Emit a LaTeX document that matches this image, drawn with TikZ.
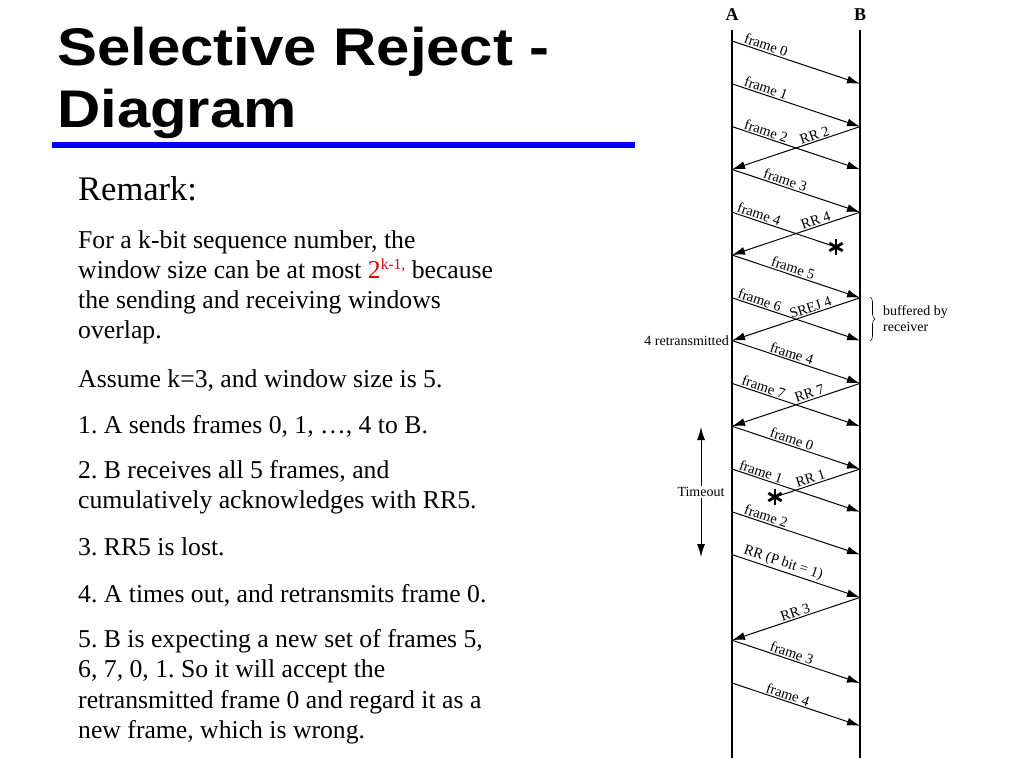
\documentclass[tikz,border=0pt]{standalone}
\usepackage{fontspec}
\setmainfont{Liberation Serif}
\newfontfamily\titlefont{Liberation Sans}
\usetikzlibrary{arrows.meta,decorations.pathreplacing}
\definecolor{slideblue}{RGB}{0,0,255}
\definecolor{hired}{RGB}{225,0,0}
\frenchspacing
\begin{document}
\begin{tikzpicture}[x=1pt,y=1pt,
  titletext/.style={anchor=base west, inner sep=0, font=\titlefont\bfseries\fontsize{53}{53}\selectfont},
  bodytext/.style={anchor=base west, inner sep=0, font=\fontsize{25.7}{30}\selectfont},
  lifeline/.style={line width=1.2pt},
  headtip/.tip={Latex[length=13pt,width=8pt]},
  msg/.style={line width=1pt, -headtip},
  lostmsg/.style={line width=1pt},
  lbl/.style={font=\fontsize{14.5}{14.5}\selectfont, sloped, above, inner sep=1.2pt},
  note/.style={font=\fontsize{14}{16}\selectfont, inner sep=0},
  lossmark/.style={circle, minimum size=15pt, inner sep=0},
  ]
\useasboundingbox (0,0) rectangle (1024,-768);

% ---------- left side text ----------
\node[titletext] (t1) at (57,-66) {\scalebox{1.13}[1]{Selective Reject -}};
\node[titletext] (t2) at (57,-127) {\scalebox{1.13}[1]{Diagram}};
\draw[slideblue, line width=6pt] (52,-145) -- (635,-145);

\node[anchor=base west, inner sep=0, font=\fontsize{34.5}{34.5}\selectfont] (rem) at (78,-200) {Remark:};
\node[bodytext] (p1a) at (78,-248) {For a k-bit sequence number, the};
\node[bodytext] (p1b) at (78,-278) {window size can be at most {\color{hired}2\raisebox{9pt}{\fontsize{15.5}{15.5}\selectfont k-1,}} because};
\node[bodytext] (p1c) at (78,-308) {the sending and receiving windows};
\node[bodytext] (p1d) at (78,-338) {overlap.};
\node[bodytext] (p2) at (78,-387) {Assume k=3, and window size is 5.};
\node[bodytext] (p3) at (78,-433) {1. A sends frames 0, 1, \dots, 4 to B.};
\node[bodytext] (p4a) at (78,-478) {2. B receives all 5 frames, and};
\node[bodytext] (p4b) at (78,-508) {cumulatively acknowledges with RR5.};
\node[bodytext] (p5) at (78,-555) {3. RR5 is lost.};
\node[bodytext] (p6) at (78,-602) {4. A times out, and retransmits frame 0.};
\node[bodytext] (p7a) at (78,-647) {5. B is expecting a new set of frames 5,};
\node[bodytext] (p7b) at (78,-677) {6, 7, 0, 1. So it will accept the};
\node[bodytext] (p7c) at (78,-708) {retransmitted frame 0 and regard it as a};
\node[bodytext] (p7d) at (78,-738) {new frame, which is wrong.};

% ---------- diagram ----------
\node[font=\bfseries\fontsize{18}{18}\selectfont, inner sep=0] (A) at (732,-15) {A};
\node[font=\bfseries\fontsize{18}{18}\selectfont, inner sep=0] (B) at (860,-15) {B};
\coordinate (Atop) at (732,-30);
\coordinate (Abot) at (732,-758);
\coordinate (Btop) at (860,-30);
\coordinate (Bbot) at (860,-758);
\draw[lifeline] (Atop) -- (Abot);
\draw[lifeline] (Btop) -- (Bbot);

\foreach \k in {0,...,16}{
  \coordinate (a\k) at (732,-41-42.8*\k);
  \coordinate (b\k) at (860,-41-42.8*\k);
}

% loss marks
\node[lossmark] (s1) at (836,-247) {};
\node[lossmark] (s2) at (775,-497) {};
\foreach \s in {s1,s2}{
  \foreach \p/\q in {90/270,30/210,150/330}{
    \draw[line width=2.8pt] (\s.\p) -- (\s.\q);
  }
}

\draw[msg] (a0) -- node[lbl, pos=0.25] {frame 0} (b1);
\draw[msg] (a1) -- node[lbl, pos=0.25] {frame 1} (b2);
\draw[msg] (a2) -- node[lbl, pos=0.25] {frame 2} (b3);
\draw[msg] (b2) -- node[lbl, pos=0.34] {RR 2} (a3);
\draw[msg] (a3) -- node[lbl, pos=0.40] {frame 3} (b4);
\draw[lostmsg] (a4) -- node[lbl, pos=0.24] {frame 4} (s1.center);
\draw[msg] (b4) -- node[lbl, pos=0.33] {RR 4} (a5);
\draw[msg] (a5) -- node[lbl, pos=0.46] {frame 5} (b6);
\draw[msg] (a6) -- node[lbl, pos=0.20] {frame 6} (b7);
\draw[msg] (b6) -- node[lbl, pos=0.37] {SREJ 4} (a7);
\draw[msg] (a7) -- node[lbl, pos=0.45] {frame 4} (b8);
\draw[msg] (a8) -- node[lbl, pos=0.23] {frame 7} (b9);
\draw[msg] (b8) -- node[lbl, pos=0.38] {RR 7} (a9);
\draw[msg] (a9) -- node[lbl, pos=0.45] {frame 0} (b10);
\draw[msg] (a10) -- node[lbl, pos=0.21] {frame 1} (b11);
\draw[lostmsg] (b10) -- node[lbl, pos=0.56] {RR 1} (s2.center);
\draw[msg] (a11) -- node[lbl, pos=0.25] {frame 2} (b12);
\draw[msg] (a12) -- node[lbl, pos=0.38] {RR (P bit = 1)} (b13);
\draw[msg] (b13) -- node[lbl, pos=0.49] {RR 3} (a14);
\draw[msg] (a14) -- node[lbl, pos=0.45] {frame 3} (b15);
\draw[msg] (a15) -- node[lbl, pos=0.42] {frame 4} (b16);

% side notes
\node[note, anchor=east] (retx) at ([xshift=-3pt]a7) {4 retransmitted};
\coordinate (br1) at (870,-297);
\coordinate (br2) at (870,-341);
\draw[line width=0.6pt, decorate, decoration={brace, amplitude=5pt}] (br1) -- (br2);
\node[note, anchor=west, align=left] (buf) at (883,-319) {buffered by\\receiver};

\coordinate (to1) at (701,-427);
\coordinate (to2) at (701,-557);
\draw[line width=1pt, headtip-headtip] (to1) -- node[note, fill=white, inner sep=1.5pt] (tout) {Timeout} (to2);
\end{tikzpicture}
\end{document}
